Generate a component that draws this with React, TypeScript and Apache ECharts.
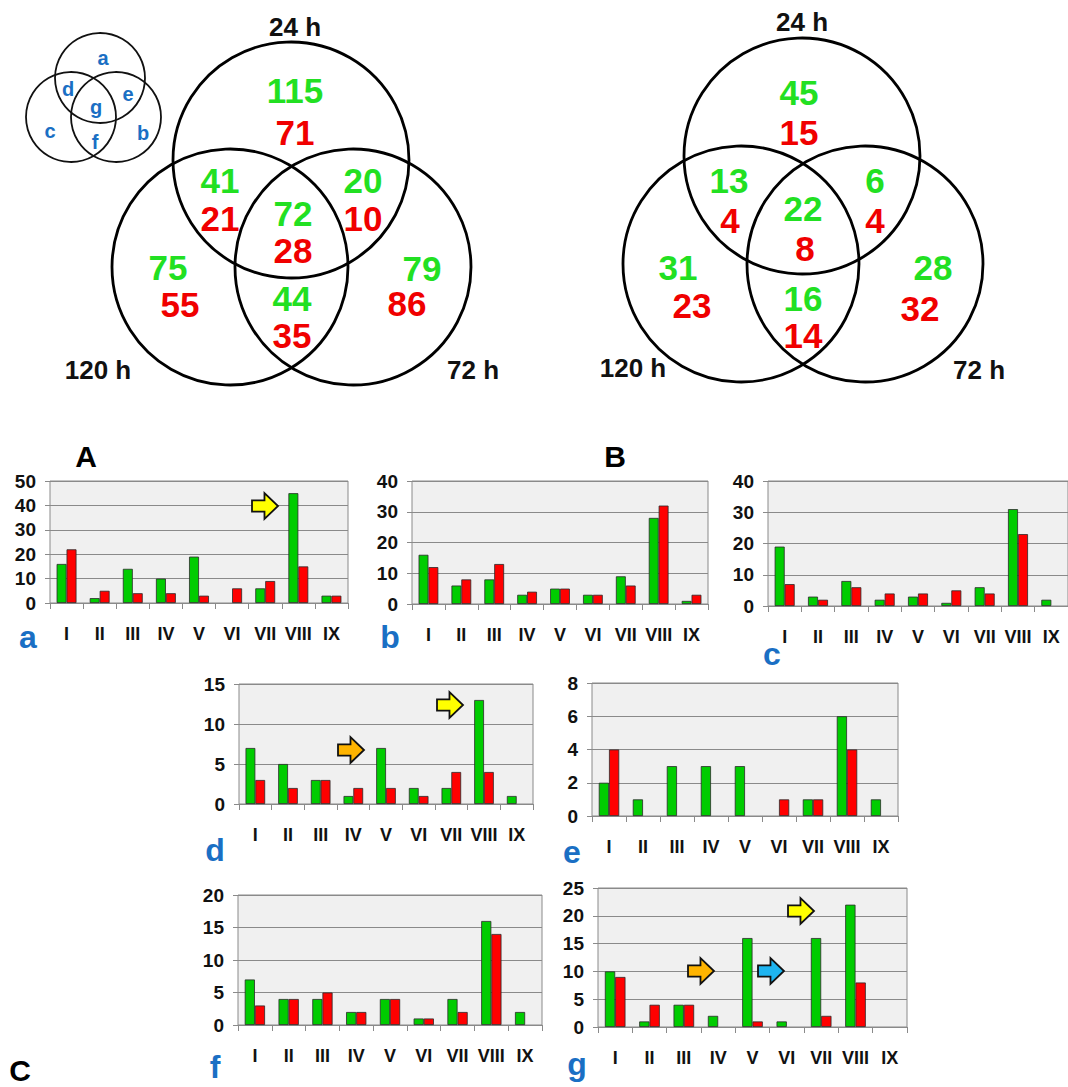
import React, { useEffect, useRef } from "react";
import * as echarts from "echarts";

const CATS = ["I", "II", "III", "IV", "V", "VI", "VII", "VIII", "IX"];

const A_GREEN = [16, 2, 14, 10, 19, 0, 6, 45, 3];
const A_RED = [22, 5, 4, 4, 3, 6, 9, 15, 3];
const B_GREEN = [16, 6, 8, 3, 5, 3, 9, 28, 1];
const B_RED = [12, 8, 13, 4, 5, 3, 6, 32, 3];
const C_GREEN = [19, 3, 8, 2, 3, 1, 6, 31, 2];
const C_RED = [7, 2, 6, 4, 4, 5, 4, 23, 0];
const D_GREEN = [7, 5, 3, 1, 7, 2, 2, 13, 1];
const D_RED = [3, 2, 3, 2, 2, 1, 4, 4, 0];
const E_GREEN = [2, 1, 3, 3, 3, 0, 1, 6, 1];
const E_RED = [4, 0, 0, 0, 0, 1, 1, 4, 0];
const F_GREEN = [7, 4, 4, 2, 4, 1, 4, 16, 2];
const F_RED = [3, 4, 5, 2, 4, 1, 2, 14, 0];
const G_GREEN = [10, 1, 4, 2, 16, 1, 16, 22, 0];
const G_RED = [9, 4, 4, 0, 1, 0, 2, 8, 0];

const Y_MAX = [50, 40, 40, 15, 8, 20, 25];
const Y_INTERVAL = [10, 10, 10, 5, 2, 5, 5];
const PANEL_LETTERS = ["a", "b", "c", "d", "e", "f", "g"];

// Venn counts: top-only, top∩left, top∩right, all three, left-only, right-only, left∩right
const VENN_A_UP = [115, 41, 20, 72, 75, 79, 44];
const VENN_A_DOWN = [71, 21, 10, 28, 55, 86, 35];
const VENN_B_UP = [45, 13, 6, 22, 31, 28, 16];
const VENN_B_DOWN = [15, 4, 4, 8, 23, 32, 14];
const VENN_SETS = ["24 h", "120 h", "72 h"];

const FONT = "'Liberation Sans', Arial, sans-serif";
const GREEN = "#00cc00";
const RED = "#ff0000";
const NUM_GREEN = "#22e022";
const NUM_RED = "#f00000";
const BLUE = "#1a6fc4";

const GRIDS = [
  { left: 50, top: 481, width: 298, height: 122 },
  { left: 412, top: 481, width: 296, height: 123 },
  { left: 768, top: 481, width: 300, height: 125 },
  { left: 239, top: 684, width: 294, height: 120 },
  { left: 592, top: 683, width: 306, height: 133 },
  { left: 238, top: 895, width: 304, height: 130 },
  { left: 598, top: 888, width: 309, height: 139 },
];

const LETTER_POS = [
  [28, 650],
  [390, 650],
  [772, 664],
  [215, 863],
  [572, 865],
  [215, 1080],
  [577, 1077],
];

const ARROWS = [
  { x: 252, y: 493, c: "#ffff00" },
  { x: 437, y: 692, c: "#ffff00" },
  { x: 338, y: 737, c: "#ffb400" },
  { x: 788, y: 898, c: "#ffff00" },
  { x: 688, y: 958, c: "#ffb400" },
  { x: 758, y: 958, c: "#1eb4f0" },
];

export default function App() {
  const ref = useRef<HTMLDivElement>(null);
  useEffect(() => {
    document.body.style.margin = "0";
    const chart = echarts.init(ref.current!, null, { renderer: "svg" });
    const data = [
      [A_GREEN, A_RED],
      [B_GREEN, B_RED],
      [C_GREEN, C_RED],
      [D_GREEN, D_RED],
      [E_GREEN, E_RED],
      [F_GREEN, F_RED],
      [G_GREEN, G_RED],
    ];

    const grid = GRIDS.map((g) => ({
      ...g,
      show: true,
      backgroundColor: "#f0f0f0",
      borderColor: "#8a8a8a",
      borderWidth: 1,
    }));
    const xAxis = GRIDS.map((_, i) => ({
      type: "category",
      gridIndex: i,
      data: CATS,
      boundaryGap: true,
      axisLine: { show: true, lineStyle: { color: "#8a8a8a", width: 1 } },
      axisTick: { show: true, length: 6, lineStyle: { color: "#8a8a8a" } },
      axisLabel: {
        interval: 0,
        color: "#111",
        fontFamily: FONT,
        fontSize: 18,
        fontWeight: "bold",
        margin: 22,
      },
    }));
    const yAxis = GRIDS.map((_, i) => ({
      type: "value",
      gridIndex: i,
      min: 0,
      max: Y_MAX[i],
      interval: Y_INTERVAL[i],
      axisLine: { show: false },
      axisTick: { show: true, length: 5, lineStyle: { color: "#8a8a8a" } },
      splitLine: { show: true, lineStyle: { color: "#8a8a8a", width: 1.2 } },
      axisLabel: {
        color: "#111",
        fontFamily: FONT,
        fontSize: 19,
        fontWeight: "bold",
        margin: 14,
      },
    }));
    // zero counts draw no bar at all
    const bars = (arr: number[]) => arr.map((v) => (v === 0 ? "-" : v));
    const series: any[] = [];
    data.forEach((pair, i) => {
      series.push({
        type: "bar",
        xAxisIndex: i,
        yAxisIndex: i,
        data: bars(pair[0]),
        barGap: "0%",
        barCategoryGap: "40%",
        itemStyle: { color: GREEN, borderColor: "#2a2a2a", borderWidth: 0.8 },
      });
      series.push({
        type: "bar",
        xAxisIndex: i,
        yAxisIndex: i,
        data: bars(pair[1]),
        barGap: "0%",
        barCategoryGap: "40%",
        itemStyle: { color: RED, borderColor: "#2a2a2a", borderWidth: 0.8 },
      });
    });

    const graphic: any[] = [];
    const txt = (x: number, y: number, t: string, size: number, color: string, lh?: number) => ({
      type: "text",
      x,
      y,
      style: {
        text: t,
        fontSize: size,
        fontWeight: "bold",
        fontFamily: FONT,
        fill: color,
        align: "center",
        verticalAlign: "middle",
        ...(lh ? { lineHeight: lh } : {}),
      },
    });

    // small Venn key
    [
      [100, 78],
      [71, 117],
      [116, 117],
    ].forEach(([cx, cy]) =>
      graphic.push({
        type: "circle",
        shape: { cx, cy, r: 45 },
        style: { fill: "none", stroke: "#111", lineWidth: 1.8 },
      })
    );
    const keyLetters: [string, number, number][] = [
      ["a", 103, 58],
      ["d", 68, 89],
      ["e", 128, 94],
      ["g", 96, 107],
      ["c", 50, 131],
      ["b", 143, 133],
      ["f", 95, 142],
    ];
    keyLetters.forEach(([t, x, y]) => graphic.push(txt(x, y, t, 20, BLUE, 16)));

    // Big Venns
    const venns = [
      {
        circles: [
          [291, 160],
          [230, 267],
          [353, 267],
        ],
        up: VENN_A_UP,
        down: VENN_A_DOWN,
        posUp: [
          [295, 90],
          [220, 180],
          [363, 180],
          [293, 213],
          [168, 267],
          [422, 268],
          [292, 298],
        ],
        posDown: [
          [295, 132],
          [220, 218],
          [363, 218],
          [293, 250],
          [180, 304],
          [407, 303],
          [292, 335],
        ],
        labels: [
          [295, 27],
          [98, 370],
          [473, 370],
        ],
      },
      {
        circles: [
          [802, 156],
          [741, 264],
          [865, 264],
        ],
        up: VENN_B_UP,
        down: VENN_B_DOWN,
        posUp: [
          [799, 92],
          [729, 180],
          [875, 180],
          [803, 208],
          [678, 267],
          [933, 267],
          [803, 298],
        ],
        posDown: [
          [799, 132],
          [730, 220],
          [875, 220],
          [805, 248],
          [692, 305],
          [920, 308],
          [803, 335],
        ],
        labels: [
          [802, 22],
          [633, 368],
          [979, 370],
        ],
      },
    ];
    venns.forEach((v) => {
      v.circles.forEach(([cx, cy]) =>
        graphic.push({
          type: "circle",
          shape: { cx, cy, r: 118 },
          style: { fill: "none", stroke: "#000", lineWidth: 2.8 },
        })
      );
      v.up.forEach((n, k) => graphic.push(txt(v.posUp[k][0], v.posUp[k][1], String(n), 35, NUM_GREEN, 30)));
      v.down.forEach((n, k) => graphic.push(txt(v.posDown[k][0], v.posDown[k][1], String(n), 35, NUM_RED, 30)));
      v.labels.forEach(([x, y], k) => graphic.push(txt(x, y, VENN_SETS[k], 26, "#111")));
    });

    // Figure panel labels
    graphic.push(txt(86, 456, "A", 30, "#000"));
    graphic.push(txt(615, 456, "B", 30, "#000"));
    graphic.push(txt(20, 1070, "C", 30, "#000"));

    PANEL_LETTERS.forEach((l, i) =>
      graphic.push({
        type: "text",
        x: LETTER_POS[i][0],
        y: LETTER_POS[i][1],
        style: {
          text: l,
          fontSize: 32,
          fontWeight: "bold",
          fontFamily: FONT,
          fill: BLUE,
          align: "center",
          verticalAlign: "bottom",
          lineHeight: i === 2 ? 20 : 26,
        },
      })
    );

    // arrows
    const W = 26,
      H = 26;
    ARROWS.forEach((a) =>
      graphic.push({
        type: "polygon",
        shape: {
          points: [
            [a.x, a.y + 0.28 * H],
            [a.x + 0.48 * W, a.y + 0.28 * H],
            [a.x + 0.48 * W, a.y],
            [a.x + W, a.y + 0.5 * H],
            [a.x + 0.48 * W, a.y + H],
            [a.x + 0.48 * W, a.y + 0.72 * H],
            [a.x, a.y + 0.72 * H],
          ],
        },
        style: { fill: a.c, stroke: "#111", lineWidth: 1.8 },
        z: 100,
      })
    );

    chart.setOption({
      animation: false,
      backgroundColor: "#ffffff",
      grid,
      xAxis,
      yAxis,
      series,
      graphic,
    });
    return () => chart.dispose();
  }, []);
  return <div ref={ref} style={{ width: 1068, height: 1087 }} />;
}
